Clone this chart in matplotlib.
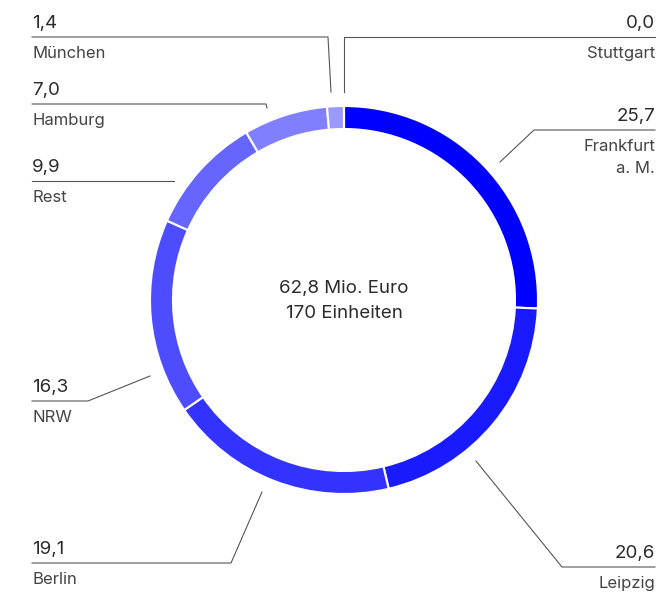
import matplotlib.pyplot as plt

# Anteile in Prozent, im Uhrzeigersinn ab 12 Uhr
staedte = ["Frankfurt\na. M.", "Leipzig", "Berlin", "NRW", "Rest", "Hamburg", "München", "Stuttgart"]
anteile = [25.7, 20.6, 19.1, 16.3, 9.9, 7.0, 1.4, 0.0]
werte_txt = ["25,7", "20,6", "19,1", "16,3", "9,9", "7,0", "1,4", "0,0"]
farben = ["#0000ff", "#1a1aff", "#3333ff", "#4d4dff", "#6666ff", "#8080ff", "#9999ff", "#b3b3ff"]
mitte_txt = ["62,8 Mio. Euro", "170 Einheiten"]

# Layout der Beschriftungen (Pixel, y nach unten)
# (Textseite, Linien-y, Knick-x, Endpunkt am Ring)
layout = {
    "Frankfurt\na. M.": ("r", 130, 534, (500, 162)),
    "Leipzig": ("r", 567, 562, (476, 461)),
    "Berlin": ("l", 563, 231, (262, 492)),
    "NRW": ("l", 401, 88, (150, 376)),
    "Rest": ("l", 181, 174, (174, 181)),
    "Hamburg": ("l", 104, 266, (267, 108)),
    "München": ("l", 37, 328, (331, 92)),
    "Stuttgart": ("r", 37, 344, (344, 92)),
}

plt.rcParams['font.family'] = ['Inter', 'DejaVu Sans']

fig = plt.figure(figsize=(6.6, 5.93), dpi=100)
ax = fig.add_axes([0, 0, 1, 1])
ax.set_xlim(0, 660)
ax.set_ylim(593, 0)
ax.set_aspect('equal')
ax.axis('off')

ax.pie(anteile, colors=farben, center=(344, 300), radius=194,
       startangle=-90, counterclock=True,
       wedgeprops=dict(width=23, edgecolor='white', linewidth=1.5))
ax.set_xlim(0, 660)
ax.set_ylim(593, 0)

links_x = 32
rechts_x = 655
wert_farbe = "#2b2b2b"
txt_farbe = "#444444"
lin_farbe = "#555555"

for name, wert in zip(staedte, werte_txt):
    seite, ly, kx, ende = layout[name]
    if seite == "l":
        ax.plot([links_x, kx, ende[0]], [ly, ly, ende[1]], color=lin_farbe, lw=0.8)
        ax.text(links_x, ly - 5, wert, ha='left', va='bottom', fontsize=13.5, color=wert_farbe)
        ax.text(links_x, ly + 9, name, ha='left', va='top', fontsize=12, color=txt_farbe,
                linespacing=1.6)
    else:
        ax.plot([rechts_x, kx, ende[0]], [ly, ly, ende[1]], color=lin_farbe, lw=0.8)
        ax.text(rechts_x, ly - 5, wert, ha='right', va='bottom', fontsize=13.5, color=wert_farbe)
        ax.text(rechts_x, ly + 9, name, ha='right', va='top', fontsize=12, color=txt_farbe,
                linespacing=1.6, multialignment='right')

ax.text(344, 289, mitte_txt[0], ha='center', va='center', fontsize=13.5, color=wert_farbe)
ax.text(344, 313, mitte_txt[1], ha='center', va='center', fontsize=13.5, color=wert_farbe)

fig.savefig("out.png", dpi=100)
